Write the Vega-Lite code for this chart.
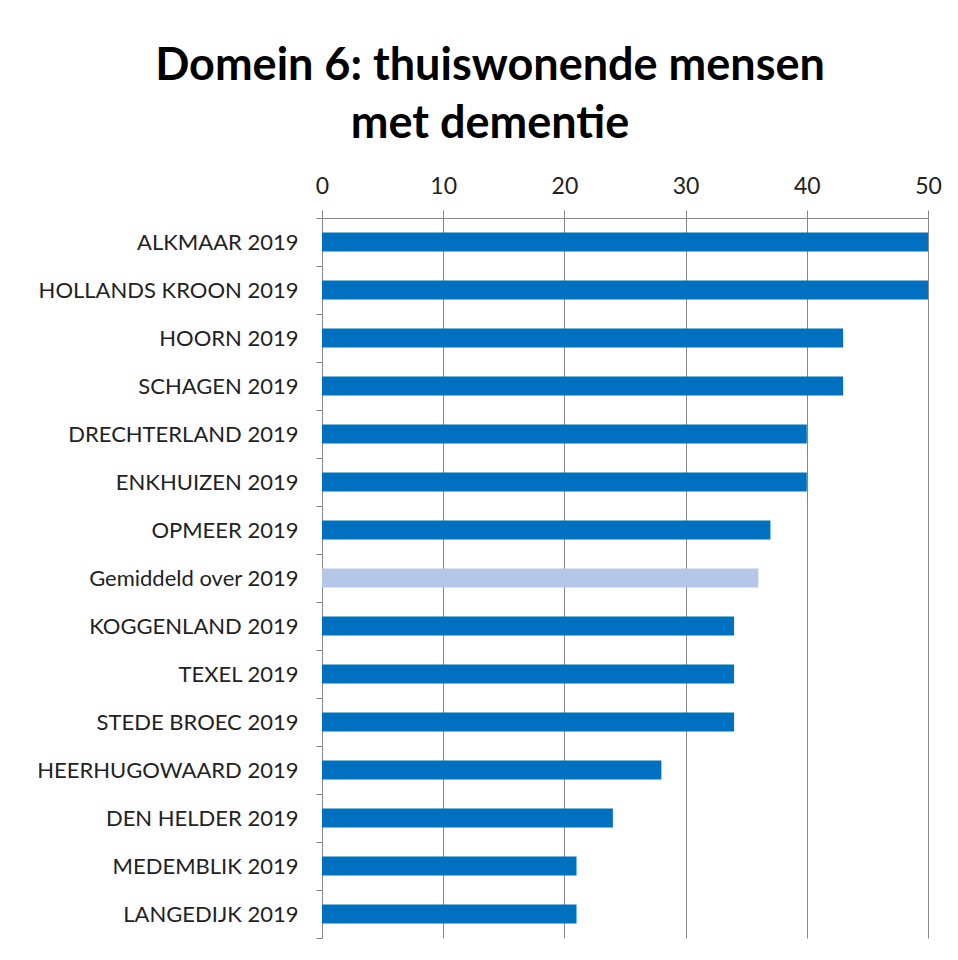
{
  "$schema": "https://vega.github.io/schema/vega-lite/v6.json",
  "width": 606,
  "height": 720,
  "autosize": "none",
  "padding": {"left": 322, "top": 218, "right": 30, "bottom": 22},
  "background": "white",
  "title": {
    "text": ["Domein 6: thuiswonende mensen", "met dementie"],
    "font": "Lato",
    "fontSize": 45,
    "fontWeight": "bold",
    "color": "#000000",
    "lineHeight": 58,
    "anchor": "middle",
    "dx": -135,
    "offset": 28
  },
  "data": {
    "values": [
      {"naam": "ALKMAAR 2019", "waarde": 50, "soort": "gemeente"},
      {"naam": "HOLLANDS KROON 2019", "waarde": 50, "soort": "gemeente"},
      {"naam": "HOORN 2019", "waarde": 43, "soort": "gemeente"},
      {"naam": "SCHAGEN 2019", "waarde": 43, "soort": "gemeente"},
      {"naam": "DRECHTERLAND 2019", "waarde": 40, "soort": "gemeente"},
      {"naam": "ENKHUIZEN 2019", "waarde": 40, "soort": "gemeente"},
      {"naam": "OPMEER 2019", "waarde": 37, "soort": "gemeente"},
      {"naam": "Gemiddeld over 2019", "waarde": 36, "soort": "gemiddeld"},
      {"naam": "KOGGENLAND 2019", "waarde": 34, "soort": "gemeente"},
      {"naam": "TEXEL 2019", "waarde": 34, "soort": "gemeente"},
      {"naam": "STEDE BROEC 2019", "waarde": 34, "soort": "gemeente"},
      {"naam": "HEERHUGOWAARD 2019", "waarde": 28, "soort": "gemeente"},
      {"naam": "DEN HELDER 2019", "waarde": 24, "soort": "gemeente"},
      {"naam": "MEDEMBLIK 2019", "waarde": 21, "soort": "gemeente"},
      {"naam": "LANGEDIJK 2019", "waarde": 21, "soort": "gemeente"}
    ]
  },
  "mark": {"type": "bar", "height": {"band": 0.4}},
  "encoding": {
    "y": {
      "field": "naam",
      "type": "nominal",
      "sort": null,
      "title": null,
      "scale": {"paddingInner": 0, "paddingOuter": 0},
      "axis": {
        "orient": "left",
        "grid": false,
        "domainColor": "#868686",
        "domainWidth": 1,
        "tickColor": "#868686",
        "tickSize": 6,
        "tickBand": "extent",
        "labelFont": "Lato",
        "labelFontSize": 22,
        "labelColor": "#222222",
        "labelPadding": 18,
        "labelLimit": 400
      }
    },
    "x": {
      "field": "waarde",
      "type": "quantitative",
      "title": null,
      "scale": {"domain": [0, 50], "nice": false},
      "axis": {
        "orient": "top",
        "values": [0, 10, 20, 30, 40, 50],
        "grid": true,
        "gridColor": "#868686",
        "gridWidth": 1,
        "domainColor": "#868686",
        "tickColor": "#868686",
        "tickSize": 8,
        "labelFont": "Lato",
        "labelFontSize": 23,
        "labelColor": "#222222",
        "labelPadding": 12,
        "labelFlush": false
      }
    },
    "color": {
      "field": "soort",
      "type": "nominal",
      "scale": {"domain": ["gemeente", "gemiddeld"], "range": ["#0070C0", "#B4C7E7"]},
      "legend": null
    }
  },
  "config": {"view": {"stroke": null}}
}
